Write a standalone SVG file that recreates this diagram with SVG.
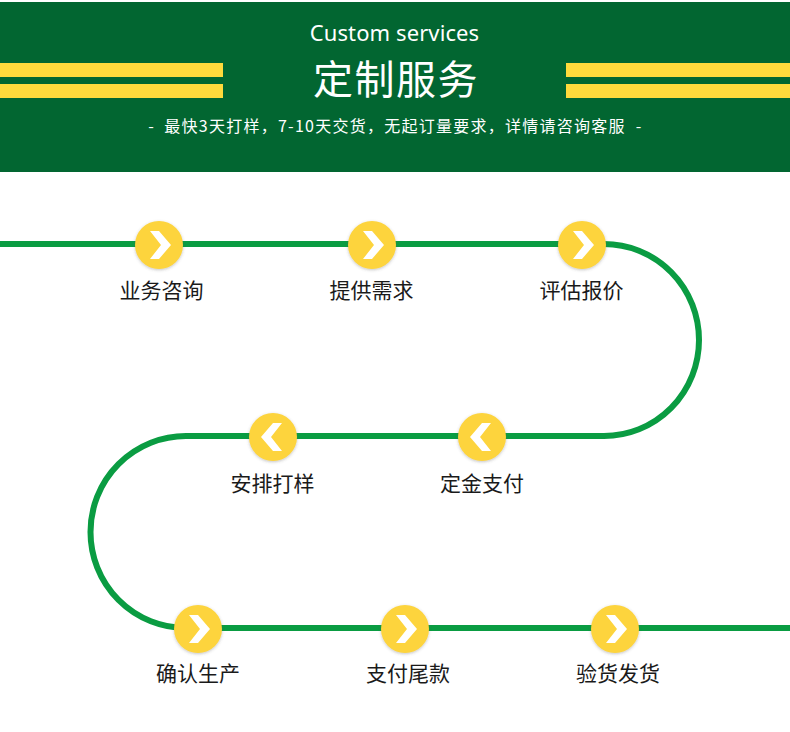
<svg xmlns="http://www.w3.org/2000/svg" width="790" height="732" viewBox="0 0 790 732">
<style>
.cn{font-family:"Noto Sans CJK SC","Noto Sans",sans-serif}
.lb{font-size:21px;fill:#1a1a1a;text-anchor:middle;font-family:"Noto Sans CJK SC","Noto Sans",sans-serif}
.st{fill:#ffda3c}
.c{fill:#fdd43c;filter:url(#s)}
.a{fill:#fff}
.sub{font-size:16px;fill:#fff;text-anchor:middle}
</style>
<defs>
<filter id="s" x="-20%" y="-20%" width="140%" height="140%"><feDropShadow dx="0" dy="1" stdDeviation="1.5" flood-color="#555" flood-opacity=".35"/></filter>
<path id="r" d="M-11-14H-2L10 0-2 14H-11L0 0Z"/>
<path id="l" d="M11-14H2L-10 0 2 14H11L0 0Z"/>
</defs>
<rect width="790" height="732" fill="#fff"/>
<g id="banner">
<rect y="2" width="790" height="170" fill="#026631"/>
<rect class="st" y="63" width="223" height="14"/><rect class="st" y="84" width="223" height="14"/>
<rect class="st" x="566" y="63" width="224" height="14"/><rect class="st" x="566" y="84" width="224" height="14"/>
<text x="394.500" y="41" text-anchor="middle" font-size="22" letter-spacing=".1" fill="#fff" font-family="Noto Sans,sans-serif">Custom services</text>
<text class="cn" x="396" y="94" text-anchor="middle" font-size="40" letter-spacing="1.500" fill="#fff">定制服务</text>
<text class="cn sub" x="395" y="132" letter-spacing="1.250">最快3天打样，7-10天交货，无起订量要求，详情请咨询客服</text>
<text class="cn sub" x="151" y="132">-</text>
<text class="cn sub" x="638.500" y="132">-</text>
</g>
<g id="connectors" fill="none" stroke="#0a9c42" stroke-width="6">
<path d="M0 244H604A95 96 0 0 1 604 436H186A95.500 96 0 0 0 186 628H790"/>
</g>
<g id="n1"><circle class="c" cx="159" cy="245" r="24"/><use class="a" href="#r" x="161" y="245"/><text class="lb" x="161.500" y="298">业务咨询</text></g>
<g id="n2"><circle class="c" cx="372" cy="245" r="24"/><use class="a" href="#r" x="374" y="245"/><text class="lb" x="371.500" y="298">提供需求</text></g>
<g id="n3"><circle class="c" cx="582" cy="245" r="24"/><use class="a" href="#r" x="584" y="245"/><text class="lb" x="581.500" y="298">评估报价</text></g>
<g id="n4"><circle class="c" cx="482" cy="437" r="24"/><use class="a" href="#l" x="480" y="437"/><text class="lb" x="482" y="491">定金支付</text></g>
<g id="n5"><circle class="c" cx="273" cy="437" r="24"/><use class="a" href="#l" x="271" y="437"/><text class="lb" x="272.500" y="491">安排打样</text></g>
<g id="n6"><circle class="c" cx="198" cy="629" r="24"/><use class="a" href="#r" x="200" y="629"/><text class="lb" x="198" y="681">确认生产</text></g>
<g id="n7"><circle class="c" cx="405" cy="629" r="24"/><use class="a" href="#r" x="407" y="629"/><text class="lb" x="408" y="681">支付尾款</text></g>
<g id="n8"><circle class="c" cx="615" cy="629" r="24"/><use class="a" href="#r" x="617" y="629"/><text class="lb" x="618" y="681">验货发货</text></g>
</svg>
